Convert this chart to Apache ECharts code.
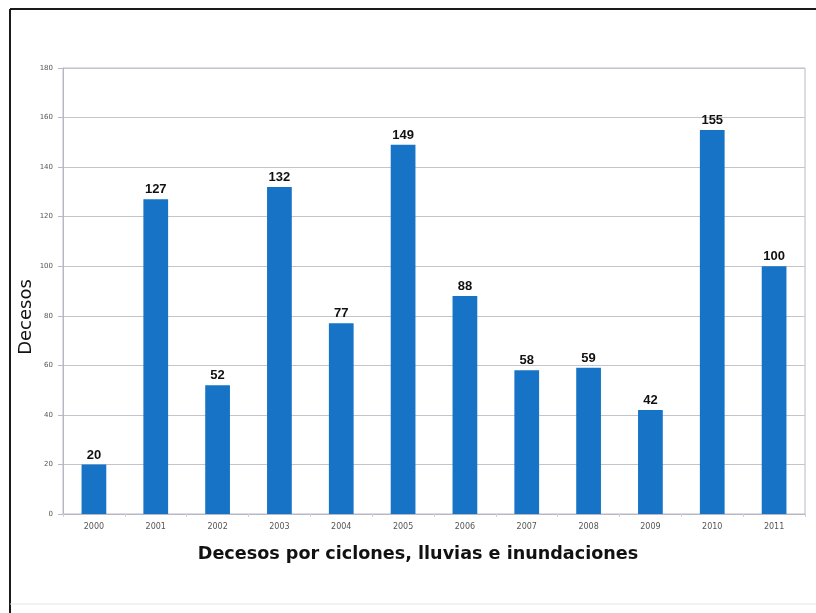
<!DOCTYPE html>
<html>
<head>
<meta charset="utf-8">
<script src="https://cdn.jsdelivr.net/npm/echarts@6/dist/echarts.min.js"></script>
<style>
  html, body { margin: 0; padding: 0; background: #fff; }
  #chart { width: 816px; height: 613px; }
</style>
</head>
<body>
<div id="chart"></div>
<script>
// Deaths caused by cyclones, rain and floods, per year
const years = ['2000', '2001', '2002', '2003', '2004', '2005', '2006', '2007', '2008', '2009', '2010', '2011'];
const deaths = [20, 127, 52, 132, 77, 149, 88, 58, 59, 42, 155, 100];
const yTicks = [0, 20, 40, 60, 80, 100, 120, 140, 160, 180];
const xTitle = 'Decesos por ciclones, lluvias e inundaciones';
const yTitle = 'Decesos';

const chart = echarts.init(document.getElementById('chart'), null, { renderer: 'canvas' });

chart.setOption({
  backgroundColor: '#ffffff',
  animation: false,
  grid: { left: 63, top: 68, right: 11, bottom: 99, show: true, borderColor: '#b8b8c4', borderWidth: 1 },
  graphic: [
    // outer frame: left and top edges dark, bottom faint
    { type: 'line', shape: { x1: 10, y1: 9, x2: 816, y2: 9 }, style: { stroke: '#1a1a1a', lineWidth: 2 } },
    { type: 'line', shape: { x1: 10, y1: 9, x2: 10, y2: 613 }, style: { stroke: '#1a1a1a', lineWidth: 2 } },
    { type: 'line', shape: { x1: 10, y1: 604, x2: 816, y2: 604 }, style: { stroke: '#e6e6e6', lineWidth: 1 } },
    // axis titles
    {
      type: 'text', x: 418, y: 554,
      style: { text: xTitle, fill: '#111', font: 'bold 17.6px "DejaVu Sans"', align: 'center', verticalAlign: 'middle' }
    },
    {
      type: 'text', x: 26, y: 317, rotation: Math.PI / 2,
      style: { text: yTitle, fill: '#111', font: '18px "DejaVu Sans"', align: 'center', verticalAlign: 'middle' }
    }
  ],
  xAxis: {
    type: 'category',
    data: years,
    axisLine: { show: true, lineStyle: { color: '#b8b8c4' } },
    axisTick: { show: true, length: 3, lineStyle: { color: '#d0d0d8' } },
    axisLabel: { color: '#555', fontSize: 8, fontFamily: 'DejaVu Sans', margin: 9 }
  },
  yAxis: {
    type: 'value',
    min: yTicks[0],
    max: yTicks[yTicks.length - 1],
    interval: 20,
    axisLine: { show: true, lineStyle: { color: '#b8b8c4' } },
    axisTick: { show: true, length: 5, lineStyle: { color: '#b8b8c4' } },
    axisLabel: { color: '#555', fontSize: 7, fontFamily: 'DejaVu Sans', margin: 10 },
    splitLine: { show: true, lineStyle: { color: '#c4c4cc', width: 1 } }
  },
  series: [{
    type: 'bar',
    data: deaths,
    barWidth: '40%',
    itemStyle: { color: '#1673c6' },
    label: {
      show: true,
      position: 'top',
      distance: 3,
      color: '#111',
      fontSize: 13,
      fontWeight: 'bold',
      fontFamily: 'Liberation Sans'
    }
  }]
});
</script>
</body>
</html>
